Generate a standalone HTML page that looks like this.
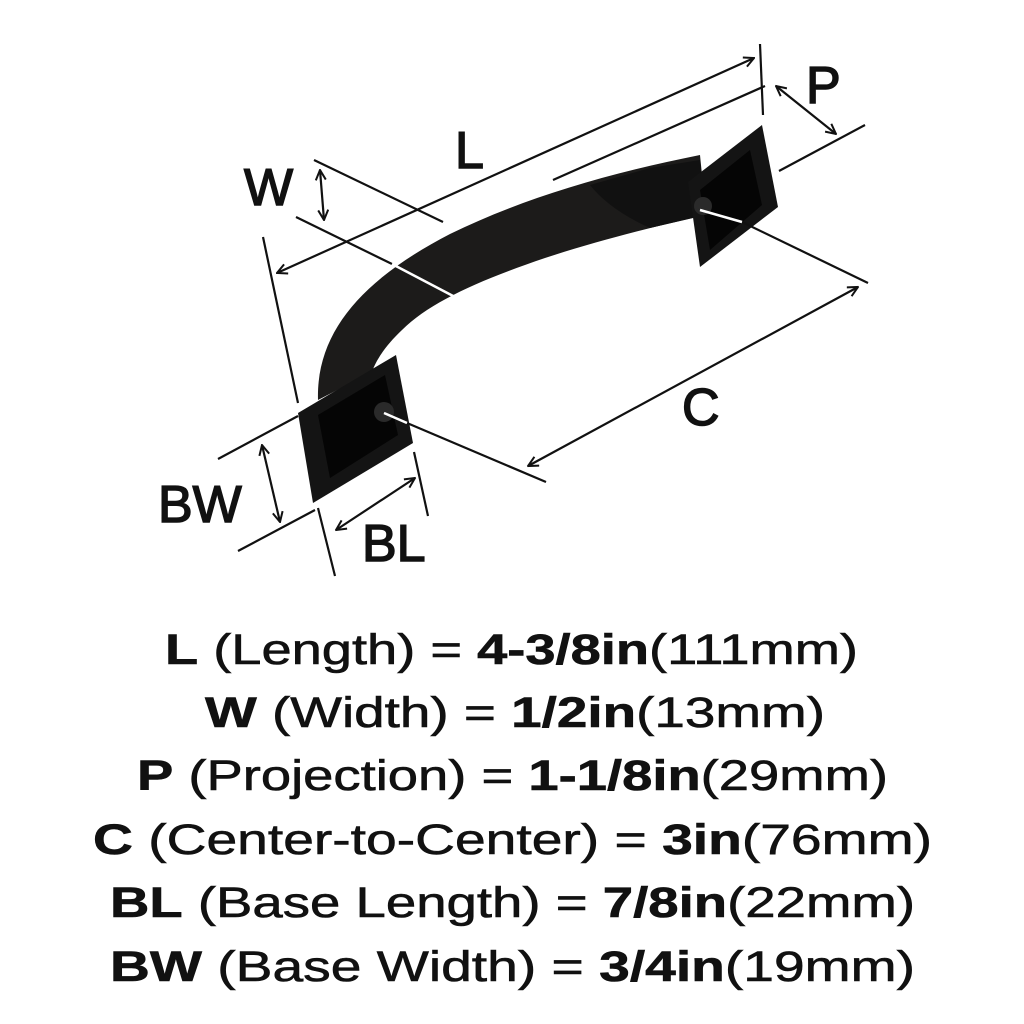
<!DOCTYPE html>
<html><head><style>
html,body{margin:0;padding:0;background:#fff;width:1024px;height:1024px;overflow:hidden}
</style></head><body>
<svg width="1024" height="1024" viewBox="0 0 1024 1024" xmlns="http://www.w3.org/2000/svg">
<defs>
<marker id="a" viewBox="0 0 12 12" refX="11" refY="6" markerWidth="12" markerHeight="12" markerUnits="userSpaceOnUse" orient="auto-start-reverse">
<path d="M1 1 L11 6 L1 11" fill="none" stroke="#111" stroke-width="2"/>
</marker>
</defs>
<path d="M318 400 C316 330 365 278 450 234 C520 200 600 175 700 155 L706 215 C660 225 600 240 545 258 C480 280 430 302 402 330 C386 345 376 360 372 372 Z" fill="#1c1b1a"/>
<path d="M590 185 L650 168 L700 160 L706 215 L650 228 Q610 210 590 185 Z" fill="#111"/>
<polygon points="298,413 396,355 413,443 313,503" fill="#141414"/>
<polygon points="318,415 385,375 398,435 330,478" fill="#050505"/>
<circle cx="384" cy="412" r="10" fill="#2a2a2a"/>
<polygon points="688,182 762,125 778,207 700,267" fill="#141414"/>
<polygon points="700,190 750,150 762,205 710,250" fill="#050505"/>
<circle cx="703" cy="206" r="9" fill="#2a2a2a"/>
<g stroke="#111" stroke-width="2.2" fill="none">
<line x1="277" y1="273" x2="754" y2="58" marker-start="url(#a)" marker-end="url(#a)"/>
<line x1="263" y1="237" x2="298" y2="403"/>
<line x1="760" y1="44" x2="763" y2="115"/>
<line x1="553" y1="180" x2="765" y2="86"/>
<line x1="320" y1="170" x2="324" y2="220" marker-start="url(#a)" marker-end="url(#a)"/>
<line x1="314" y1="160" x2="443" y2="222"/>
<line x1="296" y1="217" x2="392" y2="264"/>
<line x1="776" y1="86" x2="836" y2="134" marker-start="url(#a)" marker-end="url(#a)"/>
<line x1="779" y1="171" x2="865" y2="125"/>
<line x1="528" y1="466" x2="858" y2="287" marker-start="url(#a)" marker-end="url(#a)"/>
<line x1="742" y1="222" x2="868" y2="283"/>
<line x1="407" y1="423" x2="546" y2="482"/>
<line x1="262" y1="445" x2="280" y2="522" marker-start="url(#a)" marker-end="url(#a)"/>
<line x1="218" y1="459" x2="298" y2="416"/>
<line x1="238" y1="551" x2="315" y2="510"/>
<line x1="336" y1="530" x2="415" y2="478" marker-start="url(#a)" marker-end="url(#a)"/>
<line x1="318" y1="508" x2="335" y2="576"/>
<line x1="414" y1="452" x2="428" y2="516"/>
</g>
<g stroke="#fff" stroke-width="2.5">
<line x1="392" y1="264" x2="455" y2="297"/>
<line x1="700" y1="210" x2="742" y2="222"/>
<line x1="384" y1="413" x2="407" y2="423"/>
</g>
<g font-family="'Liberation Sans',sans-serif" font-size="52" fill="#111" stroke="#111" stroke-width="1.5">
<text x="455" y="168">L</text>
<text x="244" y="205">W</text>
<text x="806" y="103">P</text>
<text x="682" y="425">C</text>
<text x="158" y="522">BW</text>
<text x="362" y="561">BL</text>
</g>
<g font-family="'Liberation Sans',sans-serif" font-size="43" fill="#111" stroke="#111" stroke-width="0.6">
<text x="165" y="664" textLength="693" lengthAdjust="spacingAndGlyphs"><tspan font-weight="bold">L</tspan> (Length) = <tspan font-weight="bold">4-3/8in</tspan>(111mm)</text>
<text x="205" y="727" textLength="620" lengthAdjust="spacingAndGlyphs"><tspan font-weight="bold">W</tspan> (Width) = <tspan font-weight="bold">1/2in</tspan>(13mm)</text>
<text x="137" y="790" textLength="751" lengthAdjust="spacingAndGlyphs"><tspan font-weight="bold">P</tspan> (Projection) = <tspan font-weight="bold">1-1/8in</tspan>(29mm)</text>
<text x="93" y="854" textLength="839" lengthAdjust="spacingAndGlyphs"><tspan font-weight="bold">C</tspan> (Center-to-Center) = <tspan font-weight="bold">3in</tspan>(76mm)</text>
<text x="110" y="917" textLength="805" lengthAdjust="spacingAndGlyphs"><tspan font-weight="bold">BL</tspan> (Base Length) = <tspan font-weight="bold">7/8in</tspan>(22mm)</text>
<text x="110" y="981" textLength="805" lengthAdjust="spacingAndGlyphs"><tspan font-weight="bold">BW</tspan> (Base Width) = <tspan font-weight="bold">3/4in</tspan>(19mm)</text>
</g>
</svg>
</body></html>
